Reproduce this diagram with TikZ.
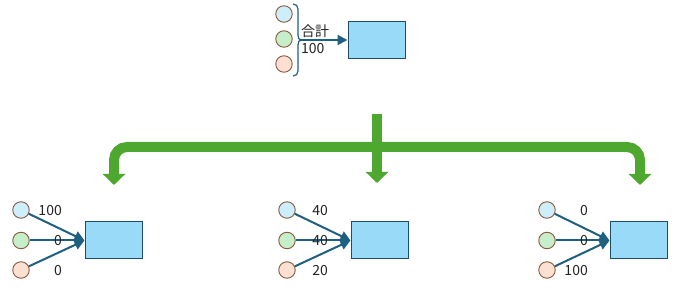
\documentclass[tikz,border=0pt]{standalone}
\usepackage{fontspec}
\setmainfont{Noto Sans CJK JP}
\usetikzlibrary{arrows.meta}
\definecolor{cblue}{HTML}{CDEEFB}
\definecolor{cgreen}{HTML}{C6EFC9}
\definecolor{cpeach}{HTML}{FCE1D3}
\definecolor{cedge}{HTML}{8A5A40}
\definecolor{rfill}{HTML}{98DAF7}
\definecolor{redge}{HTML}{1D4E68}
\definecolor{arr}{HTML}{1F5F80}
\definecolor{bigg}{HTML}{4EA72E}
\definecolor{txt}{HTML}{222222}
\tikzset{
  dot/.style={circle, draw=cedge, line width=0.9pt, minimum size=16.5pt, inner sep=0pt},
  dotb/.style={dot, fill=cblue},
  dotg/.style={dot, fill=cgreen},
  dotp/.style={dot, fill=cpeach},
  target/.style={draw=redge, fill=rfill, line width=1pt, minimum width=57pt, minimum height=37pt, inner sep=0pt},
  lab/.style={font=\fontsize{14}{16}\selectfont, text=txt, inner sep=0pt, anchor=east},
  toplab/.style={font=\fontsize{14}{16}\selectfont, text=txt, inner sep=0pt, anchor=west},
  conn/.style={draw=arr, line width=2pt, -{Triangle[width=10pt,length=10pt]}},
  green/.style={draw=bigg, line width=10pt, line cap=butt}
}
\begin{document}
\begin{tikzpicture}[x=1pt,y=-1pt]
\useasboundingbox (0,0) rectangle (680,288);
% top group
\node[dotb] (t1) at (284,14) {};
\node[dotg] (t2) at (284,39) {};
\node[dotp] (t3) at (284,64) {};
\draw[draw=arr, line width=1.2pt] (293,4) .. controls (296,4) and (298,6) .. (298,9) -- (298,35) .. controls (298,38) and (299,40) .. (301,40) .. controls (299,40) and (298,42) .. (298,45) -- (298,71) .. controls (298,74) and (296,76) .. (293,76);
\coordinate (tb) at (300,40);
\node[target] (T) at (376.5,40) {};
\draw[conn] (tb) -- (T.west);
\node[toplab] (sum) at (301,31) {合計};
\node[toplab] (sumv) at (301,49) {100};
% green arrows
\draw[green, -{Triangle[width=22pt,length=11pt]}] (377,114) -- (377,183);
\draw[green, rounded corners=13pt, {Triangle[width=22pt,length=11pt]}-{Triangle[width=22pt,length=11pt]}] (114,185) -- (114,147) -- (640,147) -- (640,185);
% bottom groups
\foreach \cx/\rx/\na/\nb/\nc/\g in {21/113.5/100/0/0/a, 287/379.5/40/40/20/b, 547/638.5/0/0/100/c}{
  \node[dotb] (\g1) at (\cx,210) {};
  \node[dotg] (\g2) at (\cx,240.5) {};
  \node[dotp] (\g3) at (\cx,270) {};
  \node[target] (R\g) at (\rx,240.5) {};
  \draw[conn] (\g1) -- (R\g.west);
  \draw[conn] (\g2) -- (R\g.west);
  \draw[conn] (\g3) -- (R\g.west);
  \node[lab] (l\g1) at (\cx+41,211) {\na};
  \node[lab] (l\g2) at (\cx+41,241) {\nb};
  \node[lab] (l\g3) at (\cx+41,271) {\nc};
}
\end{tikzpicture}
\end{document}
